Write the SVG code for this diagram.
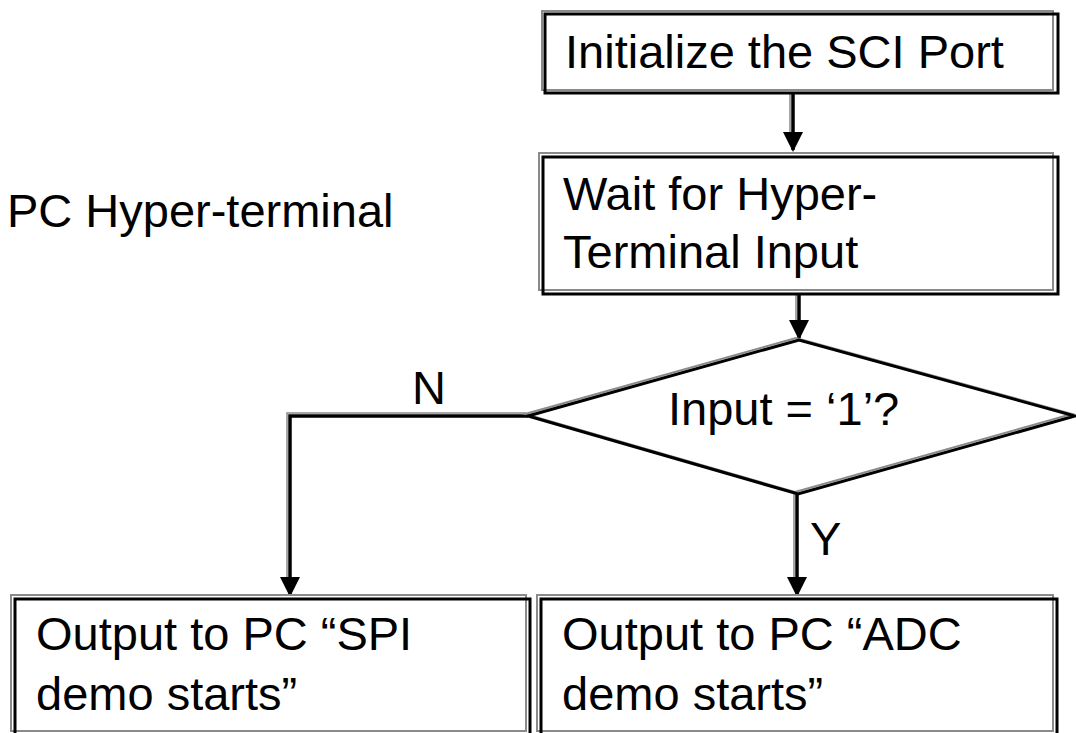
<svg xmlns="http://www.w3.org/2000/svg" width="1076" height="733" viewBox="0 0 1076 733">
  <style>
    text { font-family: "Liberation Sans", Arial, sans-serif; font-size: 47px; fill: #000; }
    .fill { fill: #fff; stroke: none; }
    .shade { fill: none; stroke: #8a8a8a; stroke-width: 2; }
    .edge { fill: none; stroke: #000; stroke-width: 3; }
    .wire { fill: none; stroke: #000; stroke-width: 3.5; }
    .wire-shade { fill: none; stroke: #8a8a8a; stroke-width: 1.5; }
  </style>
  <defs>
    <marker id="head" viewBox="0 0 20 20" refX="18" refY="10" markerWidth="20" markerHeight="20" markerUnits="userSpaceOnUse" orient="auto">
      <path d="M0,0 L20,10 L0,20 z" fill="#000"/>
    </marker>
  </defs>
  <rect width="1076" height="733" fill="#fff"/>

  <text x="7" y="227">PC Hyper-terminal</text>

  <!-- flow connectors -->
  <g id="connectors">
    <line class="wire-shade" x1="790" y1="92" x2="790" y2="138"/>
    <line class="wire" x1="793" y1="94" x2="793" y2="150" marker-end="url(#head)"/>

    <line class="wire-shade" x1="796" y1="293" x2="796" y2="326"/>
    <line class="wire" x1="799" y1="295" x2="799" y2="338" marker-end="url(#head)"/>

    <polyline class="wire-shade" points="526,413 287,413 287,581"/>
    <polyline class="wire" points="528,416 290,416 290,595" marker-end="url(#head)"/>
    <text x="412" y="404">N</text>

    <line class="wire-shade" x1="794" y1="492" x2="794" y2="581"/>
    <line class="wire" x1="797" y1="494" x2="797" y2="595" marker-end="url(#head)"/>
    <text x="810" y="555">Y</text>
  </g>

  <g id="init-sci">
    <rect class="fill" x="542" y="11" width="516" height="82"/>
    <rect class="shade" x="542" y="11" width="511" height="79"/>
    <rect class="edge" x="545" y="14" width="513" height="79"/>
    <text x="565" y="68">Initialize the SCI Port</text>
  </g>

  <g id="wait-input">
    <rect class="fill" x="539" y="153" width="519" height="141"/>
    <rect class="shade" x="539" y="153" width="514" height="137"/>
    <rect class="edge" x="543" y="157" width="515" height="137"/>
    <text x="563" y="210">Wait for Hyper-</text>
    <text x="563" y="268">Terminal Input</text>
  </g>

  <g id="input-check">
    <polygon class="fill" points="528,416 799,340 1075,416 798,494"/>
    <polygon class="shade" points="525,414 796,338 1072,414 795,492"/>
    <polygon class="edge" points="528,416 799,340 1075,416 798,494"/>
    <text x="668" y="425">Input = ‘1’?</text>
  </g>

  <g id="spi-output">
    <rect class="fill" x="11" y="595" width="519" height="140"/>
    <rect class="shade" x="11" y="595" width="515" height="136"/>
    <rect class="edge" x="15" y="599" width="515" height="136"/>
    <text x="36" y="650">Output to PC “SPI</text>
    <text x="36" y="710">demo starts”</text>
  </g>

  <g id="adc-output">
    <rect class="fill" x="537" y="595" width="520" height="140"/>
    <rect class="shade" x="537" y="595" width="516" height="136"/>
    <rect class="edge" x="541" y="599" width="516" height="136"/>
    <text x="562" y="650">Output to PC “ADC</text>
    <text x="562" y="710">demo starts”</text>
  </g>
</svg>
